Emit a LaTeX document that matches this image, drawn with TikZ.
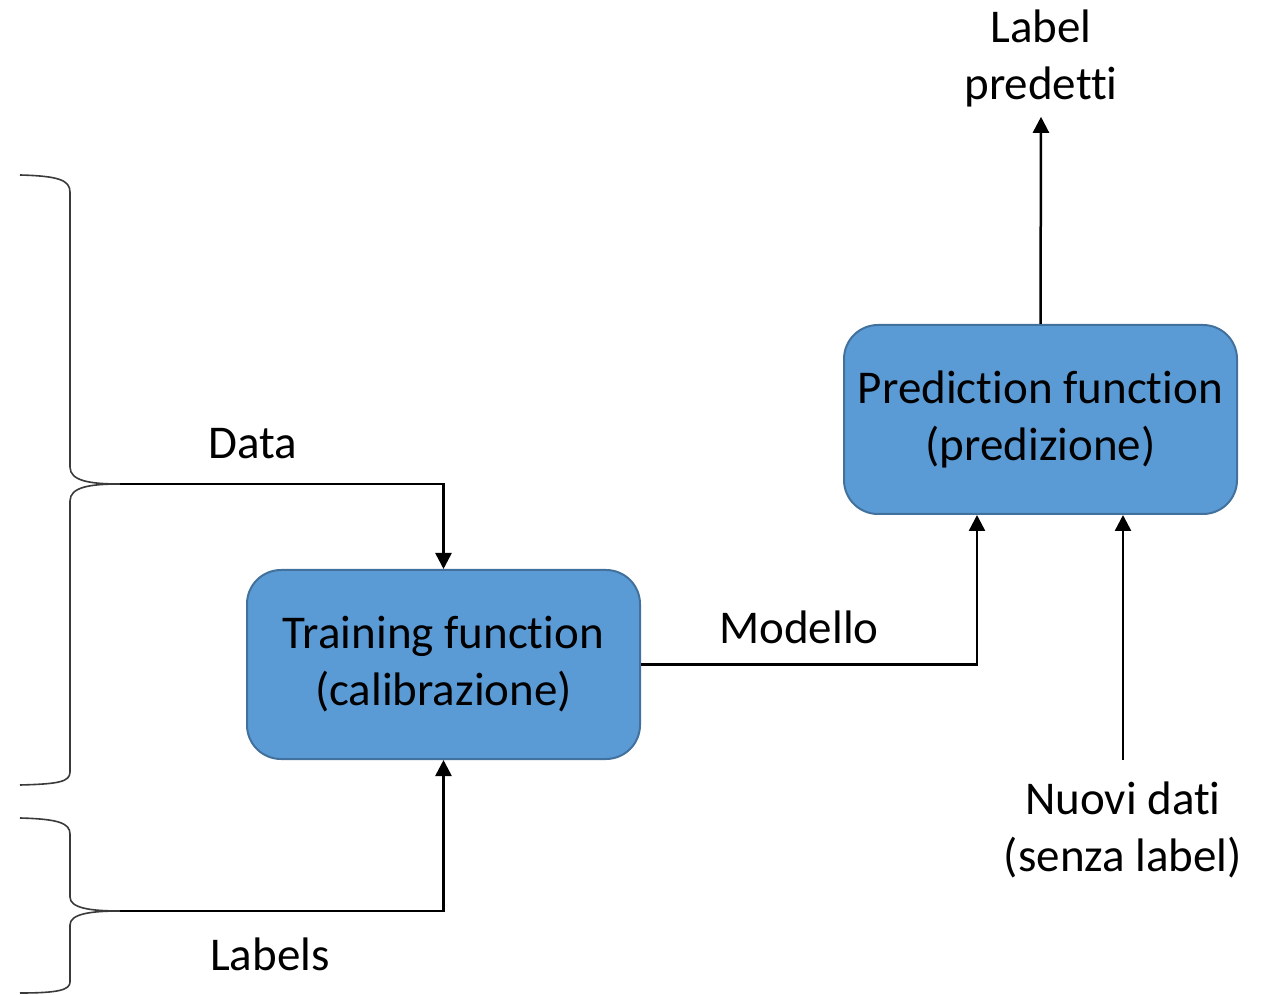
\documentclass[tikz,border=0pt]{standalone}
\usepackage{fontspec}
\setmainfont{Carlito}[Ligatures=NoCommon]
\usepackage{tikz}
\usetikzlibrary{arrows.meta, positioning, calc}
\definecolor{boxFill}{HTML}{5B9BD5}
\definecolor{boxEdge}{HTML}{41719C}
\definecolor{braceInk}{HTML}{3A3A3A}

\begin{document}
\begin{tikzpicture}[
    x=1pt, y=1pt,
    fbox/.style={draw=boxEdge, fill=boxFill, line width=2pt, rounded corners=34pt,
                 minimum width=393pt, minimum height=189pt, align=center,
                 font=\fontsize{47}{57}\selectfont},
    lbl/.style={font=\fontsize{47}{57}\selectfont, align=center, inner sep=0pt},
    arr/.style={-{Triangle[length=16pt, width=16pt]}, line width=2.5pt},
    wire/.style={line width=2.5pt},
    brc/.style={draw=braceInk, line width=1.6pt},
  ]
    \useasboundingbox (0,0) rectangle (1271,994);

    % the two curly braces on the left
    \draw[brc] (20,819) .. controls (58,818) and (70,814) .. (70,802) -- (70,527)
        .. controls (70,513) and (90,510) .. (120,510)
        .. controls (90,510) and (70,507) .. (70,493) -- (70,222)
        .. controls (70,212) and (58,210) .. (20,209);
    \draw[brc] (20,176) .. controls (58,175) and (70,171) .. (70,160) -- (70,97)
        .. controls (70,86) and (90,83) .. (120,83)
        .. controls (90,83) and (70,80) .. (70,69) -- (70,12)
        .. controls (70,4) and (58,1) .. (20,1);
    \coordinate (dataTip) at (120,510);
    \coordinate (labTip) at (120,83);

    \node[fbox] (train) at (443.5,329.5) {Training function\\(calibrazione)};
    \node[fbox] (pred) at (1040.5,574.5) {Prediction function\\(predizione)};

    \node[lbl, anchor=base] (dataTxt) at (253,535) {Data};
    \node[lbl, anchor=base] (labTxt) at (270,24) {Labels};
    \node[lbl, anchor=base] (modTxt) at (799,351) {Modello};
    \node[lbl, inner sep=10pt] (outTxt) at (1041,936) {Label\\predetti};
    \node[lbl, inner ysep=22pt] (newTxt) at (1123,164) {Nuovi dati\\(senza label)};

    \draw[wire, arr] (dataTip) -| (train.north);
    \draw[wire, arr] (labTip) -| (train.south);
    \draw[wire, arr] (train.east) -| ([xshift=-63.5pt]pred.south);
    \draw[wire, arr] (newTxt.north) -- (newTxt.north |- pred.south);
    \draw[wire, arr] (pred.north) -- (outTxt.south);
  \end{tikzpicture}
\end{document}
